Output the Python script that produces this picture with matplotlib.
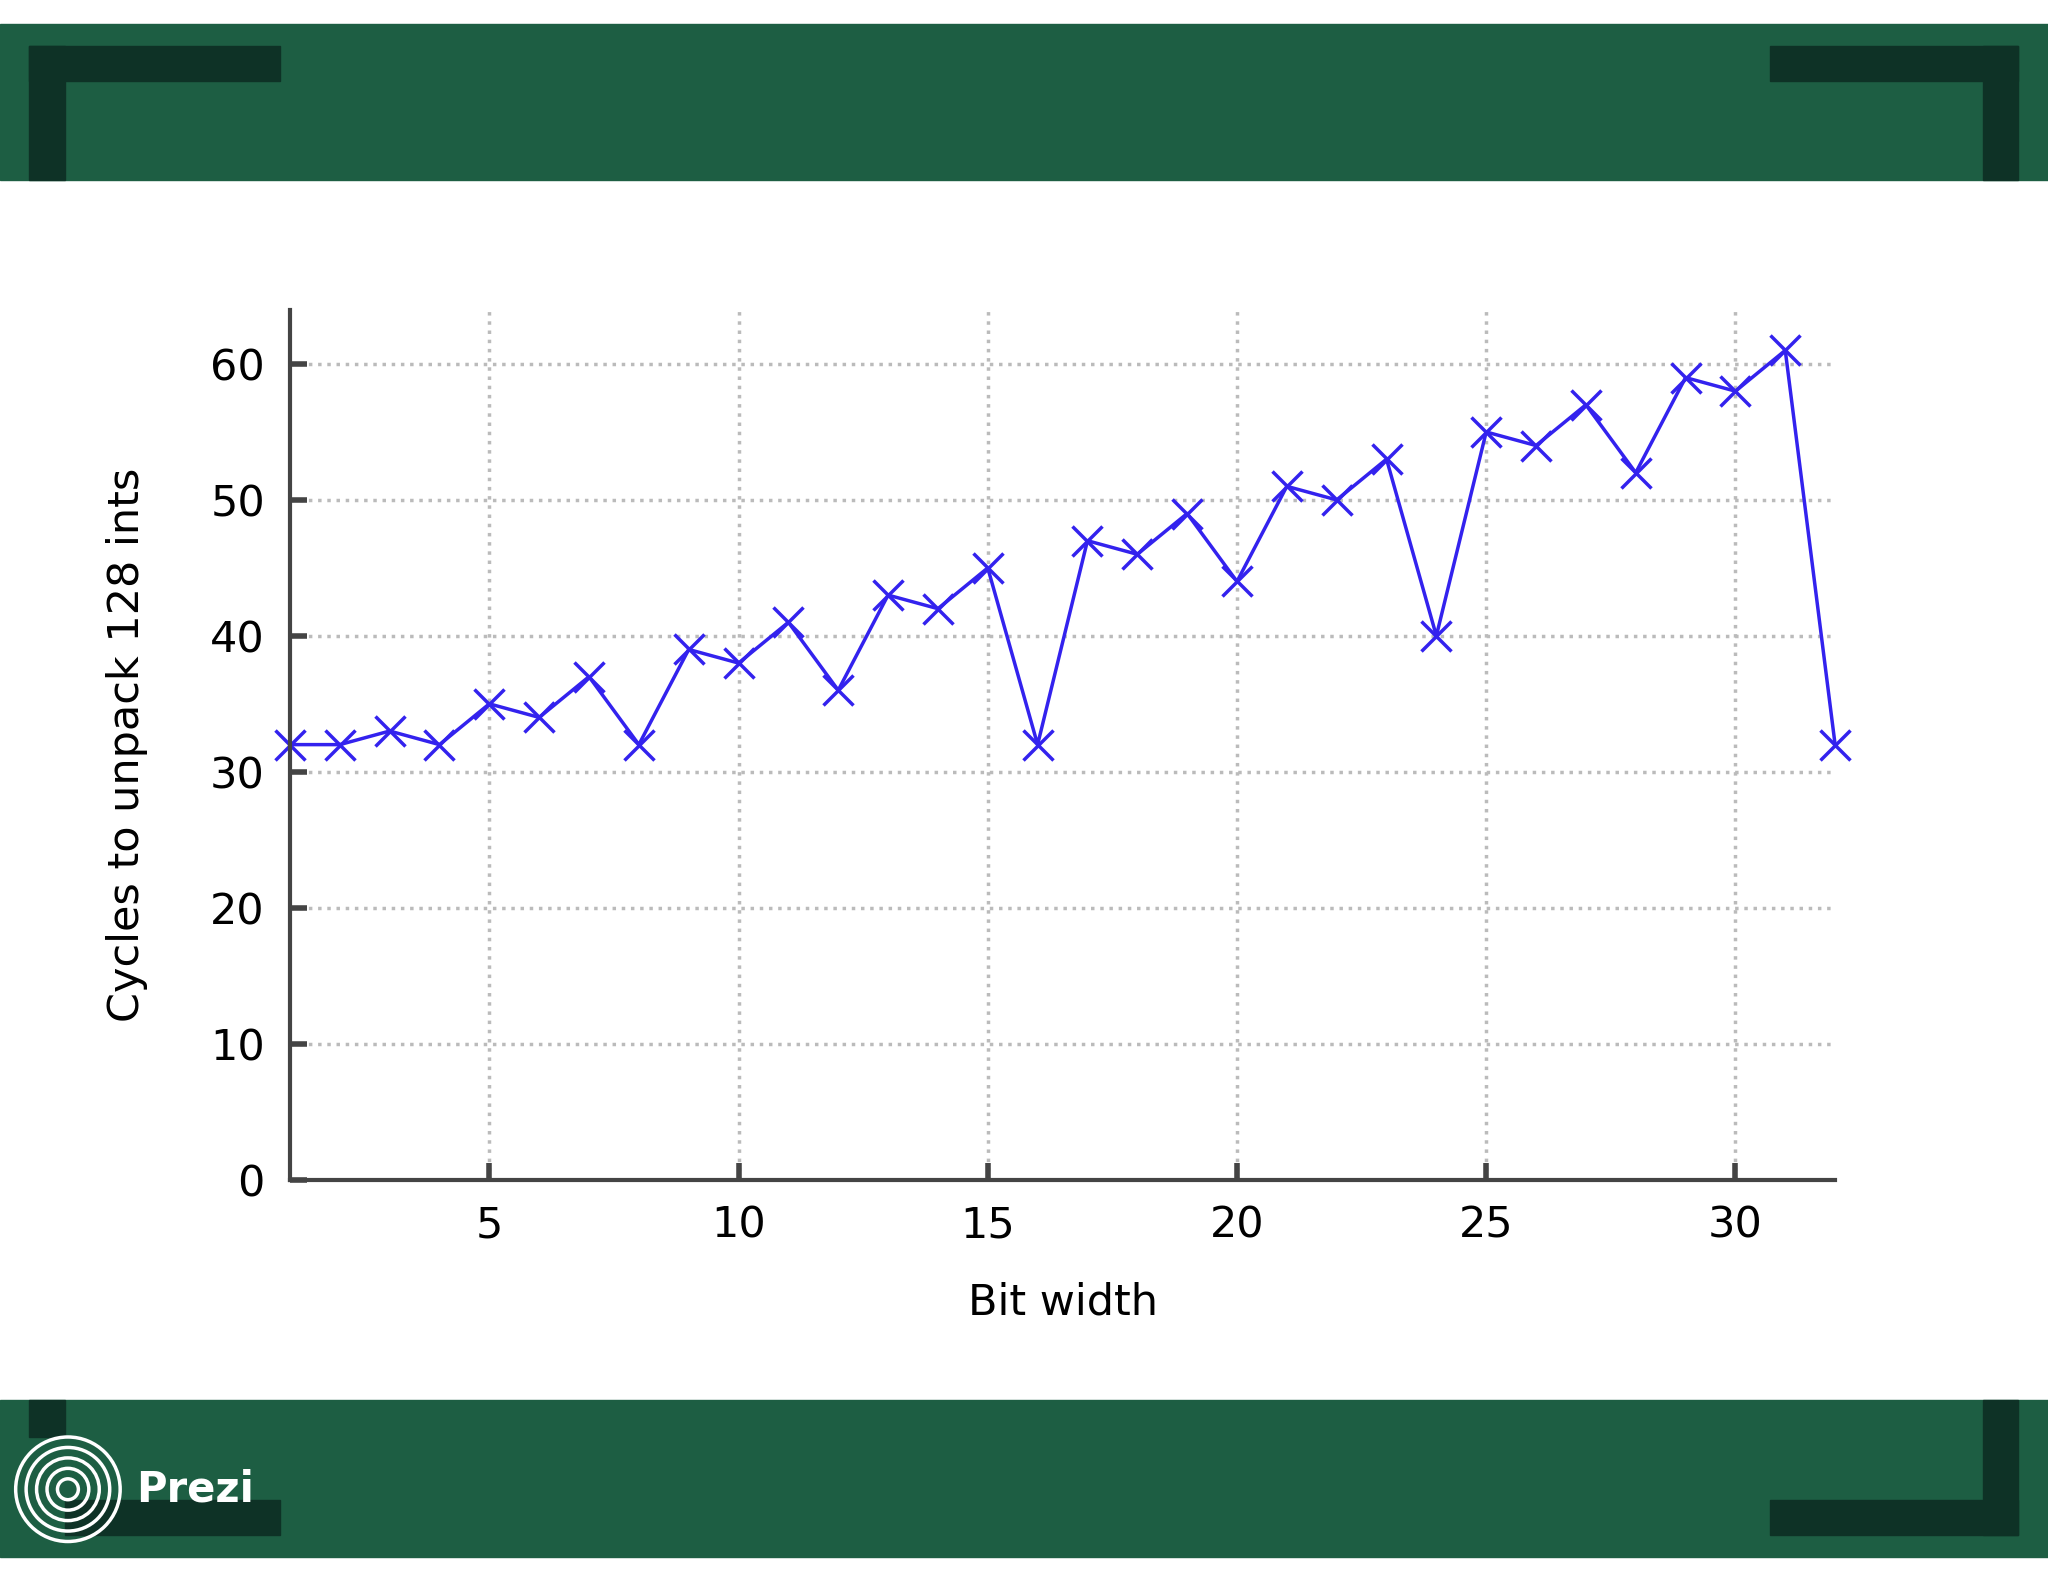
import matplotlib
matplotlib.use("Agg")
import matplotlib.pyplot as plt
from matplotlib.patches import Rectangle, Ellipse

bit_width = list(range(1, 33))
cycles = [32, 32, 33, 32, 35, 34, 37, 32, 39, 38, 41, 36, 43, 42, 45, 32,
          47, 46, 49, 44, 51, 50, 53, 40, 55, 54, 57, 52, 59, 58, 61, 32]
xticks = [5, 10, 15, 20, 25, 30]
yticks = [0, 10, 20, 30, 40, 50, 60]

W, H = 1568, 1211
fig = plt.figure(figsize=(20.48, 15.82), dpi=100)
fig.patch.set_facecolor("white")
green = "#1d5e43"
dark = "#0e3226"

def rect(x0, y0, x1, y1, c):
    fig.patches.append(Rectangle((x0 / W, 1 - y1 / H), (x1 - x0) / W, (y1 - y0) / H,
                                 transform=fig.transFigure, color=c, zorder=0))

rect(0, 18, W, 138, green)
rect(0, 1072, W, 1192, green)
rect(22, 35, 214, 62, dark); rect(22, 35, 50, 138, dark)
rect(1355, 35, 1545, 62, dark); rect(1518, 35, 1545, 138, dark)
rect(22, 1072, 50, 1100, dark); rect(50, 1148, 214, 1175, dark)
rect(1518, 1072, 1545, 1175, dark); rect(1355, 1148, 1545, 1175, dark)
for r in [40, 32, 24, 16, 8]:
    fig.patches.append(Ellipse((52 / W, 1 - 1140 / H), 2 * r / W, 2 * r / H,
                               transform=fig.transFigure, fill=False, ec="white", lw=2.5, zorder=1))
fig.text(104 / W, 1 - 1140 / H, "Prezi", color="white", fontsize=30, fontweight="bold",
         va="center", ha="left")

ax = fig.add_axes([222 / W, 1 - 903 / H, (1405 - 222) / W, (903 - 237) / H])
ax.set_facecolor("white")
ax.plot(bit_width, cycles, color="#3322ee", lw=2.5, marker="x", ms=22, mew=2.5, clip_on=False)
ax.set_xlim(1, 32)
ax.set_ylim(0, 64)
ax.set_xticks(xticks)
ax.set_yticks(yticks)
ax.grid(True, color="#bbbbbb", linestyle=":", lw=2.5)
for s in ["top", "right"]:
    ax.spines[s].set_visible(False)
for s in ["left", "bottom"]:
    ax.spines[s].set_linewidth(3)
    ax.spines[s].set_color("#444444")
ax.tick_params(direction="in", length=12, width=4, color="#444444", labelsize=31, pad=18)
ax.set_xlabel("Bit width", fontsize=31, labelpad=25)
ax.set_ylabel("Cycles to unpack 128 ints", fontsize=31, labelpad=45)
fig.savefig("out.png", dpi=100)
